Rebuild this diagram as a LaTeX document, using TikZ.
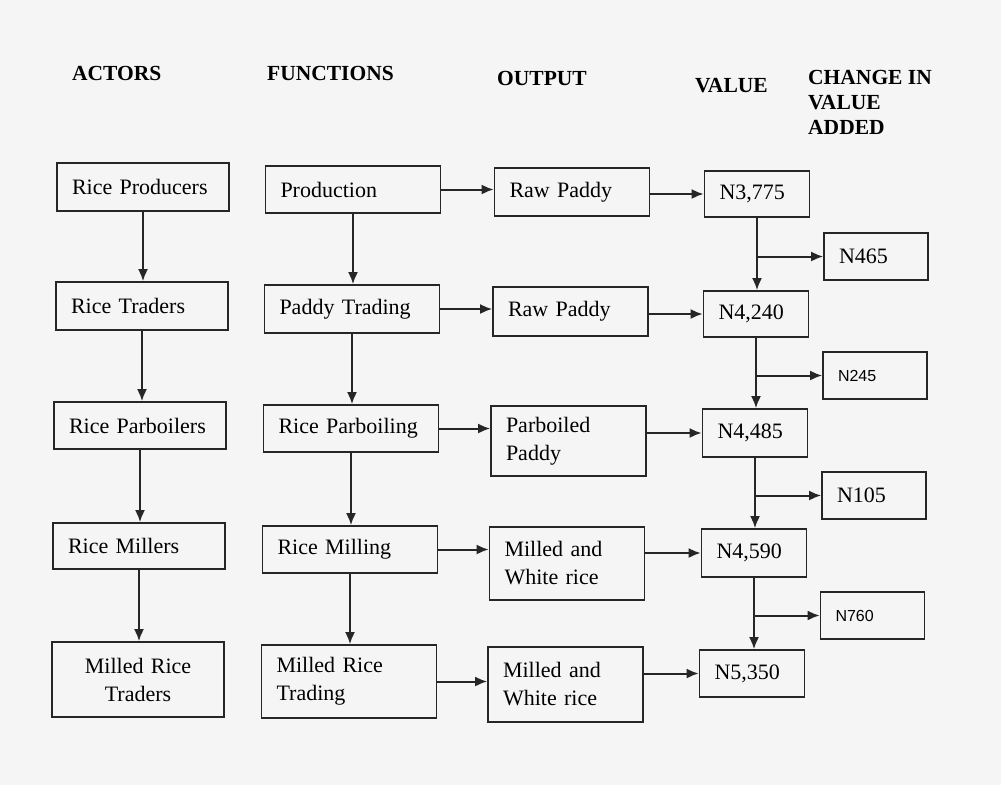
\documentclass[tikz,border=0pt]{standalone}
\usepackage{fontspec}
\setmainfont{Liberation Serif}
\newfontfamily\boxsans{Liberation Sans}
\usetikzlibrary{arrows.meta}

\tikzset{
    box/.style = {draw=black!85, line width=1.7pt, inner xsep=15pt, inner ysep=0pt,
        align=left, font=\fontsize{22}{28}\selectfont},
    actor/.style = {box, minimum width=172pt, text width=142pt},
    func/.style = {box, minimum width=175pt, text width=145pt},
    outp/.style = {box, minimum width=155pt, text width=125pt},
    val/.style = {box, minimum width=105pt, text width=75pt},
    change/.style = {box, minimum width=104pt, text width=74pt},
    head/.style = {anchor=base west, align=left, inner sep=0pt,
        font=\bfseries\fontsize{21.5}{25}\selectfont},
    link/.style = {draw=black!85, line width=2pt, -{Latex[length=12pt,width=10pt]}},
}

\begin{document}
\begin{tikzpicture}[x=1pt, y=-1pt]
    \fill [black!4] (0,0) rectangle (1001,785);
    \useasboundingbox (0,0) rectangle (1001,785);

    % column headings
    \node [head] (hact) at (72,80) {ACTORS};
    \node [head] (hfun) at (267,80) {FUNCTIONS};
    \node [head] (hout) at (497,85) {OUTPUT};
    \node [head] (hval) at (695,92) {VALUE};
    \node [head] (hchg) at (808,134) {CHANGE IN\\VALUE\\ADDED};

    % actors
    \node [actor, minimum height=48pt] (a1) at (143,187) {Rice Producers};
    \node [actor, minimum height=48pt] (a2) at (142,306) {Rice Traders};
    \node [actor, minimum height=47pt] (a3) at (140,425.5) {Rice Parboilers};
    \node [actor, minimum height=46pt] (a4) at (139,546) {Rice Millers};
    \node [actor, minimum height=75pt, align=center] (a5) at (138,679.5) {Milled Rice\\Traders};

    % functions
    \node [func, minimum height=47pt] (f1) at (353,189.5) {Production};
    \node [func, minimum height=48pt] (f2) at (352,309) {Paddy Trading};
    \node [func, minimum height=47pt] (f3) at (351,428.5) {Rice Parboiling};
    \node [func, minimum height=47pt] (f4) at (350,549.5) {Rice Milling};
    \node [func, minimum height=73pt] (f5) at (349,681.5) {Milled Rice\\Trading};

    % output
    \node [outp, minimum height=48pt] (o1) at (572,192) {Raw Paddy};
    \node [outp, minimum height=49pt] (o2) at (570.5,311.5) {Raw Paddy};
    \node [outp, minimum height=70pt] (o3) at (568.5,441) {Parboiled\\Paddy};
    \node [outp, minimum height=73pt] (o4) at (567,563.5) {Milled and\\White rice};
    \node [outp, minimum height=75pt] (o5) at (565.5,684.5) {Milled and\\White rice};

    % value
    \node [val, minimum height=46pt] (v1) at (757,194) {N3,775};
    \node [val, minimum height=46pt] (v2) at (756,314) {N4,240};
    \node [val, minimum height=48pt] (v3) at (755,433) {N4,485};
    \node [val, minimum height=48pt] (v4) at (754,553) {N4,590};
    \node [val, minimum height=47pt] (v5) at (752,673.5) {N5,350};

    % change in value added
    \node [change, minimum height=47pt] (c1) at (876,256.5) {N465};
    \node [change, minimum height=47pt, font=\boxsans\fontsize{16}{20}\selectfont] (c2) at (875,375.5) {N245};
    \node [change, minimum height=47pt] (c3) at (874,495.5) {N105};
    \node [change, minimum height=47pt, font=\boxsans\fontsize{16}{20}\selectfont] (c4) at (872.5,615.5) {N760};

    \foreach \i/\j in {1/2,2/3,3/4,4/5} {
        \draw [link] (a\i.south) -- (a\i.south |- a\j.north);
        \draw [link] (f\i.south) -- (f\i.south |- f\j.north);
        \draw [link] (v\i.south) -- (v\i.south |- v\j.north);
        \draw [link] (v\i.south |- c\i.west) -- (c\i.west);
    }
    \foreach \i in {1,...,5} {
        \draw [link] (f\i.east) -- (f\i.east -| o\i.west);
        \draw [link] (v\i.west -| o\i.east) -- (v\i.west);
    }
\end{tikzpicture}
\end{document}
